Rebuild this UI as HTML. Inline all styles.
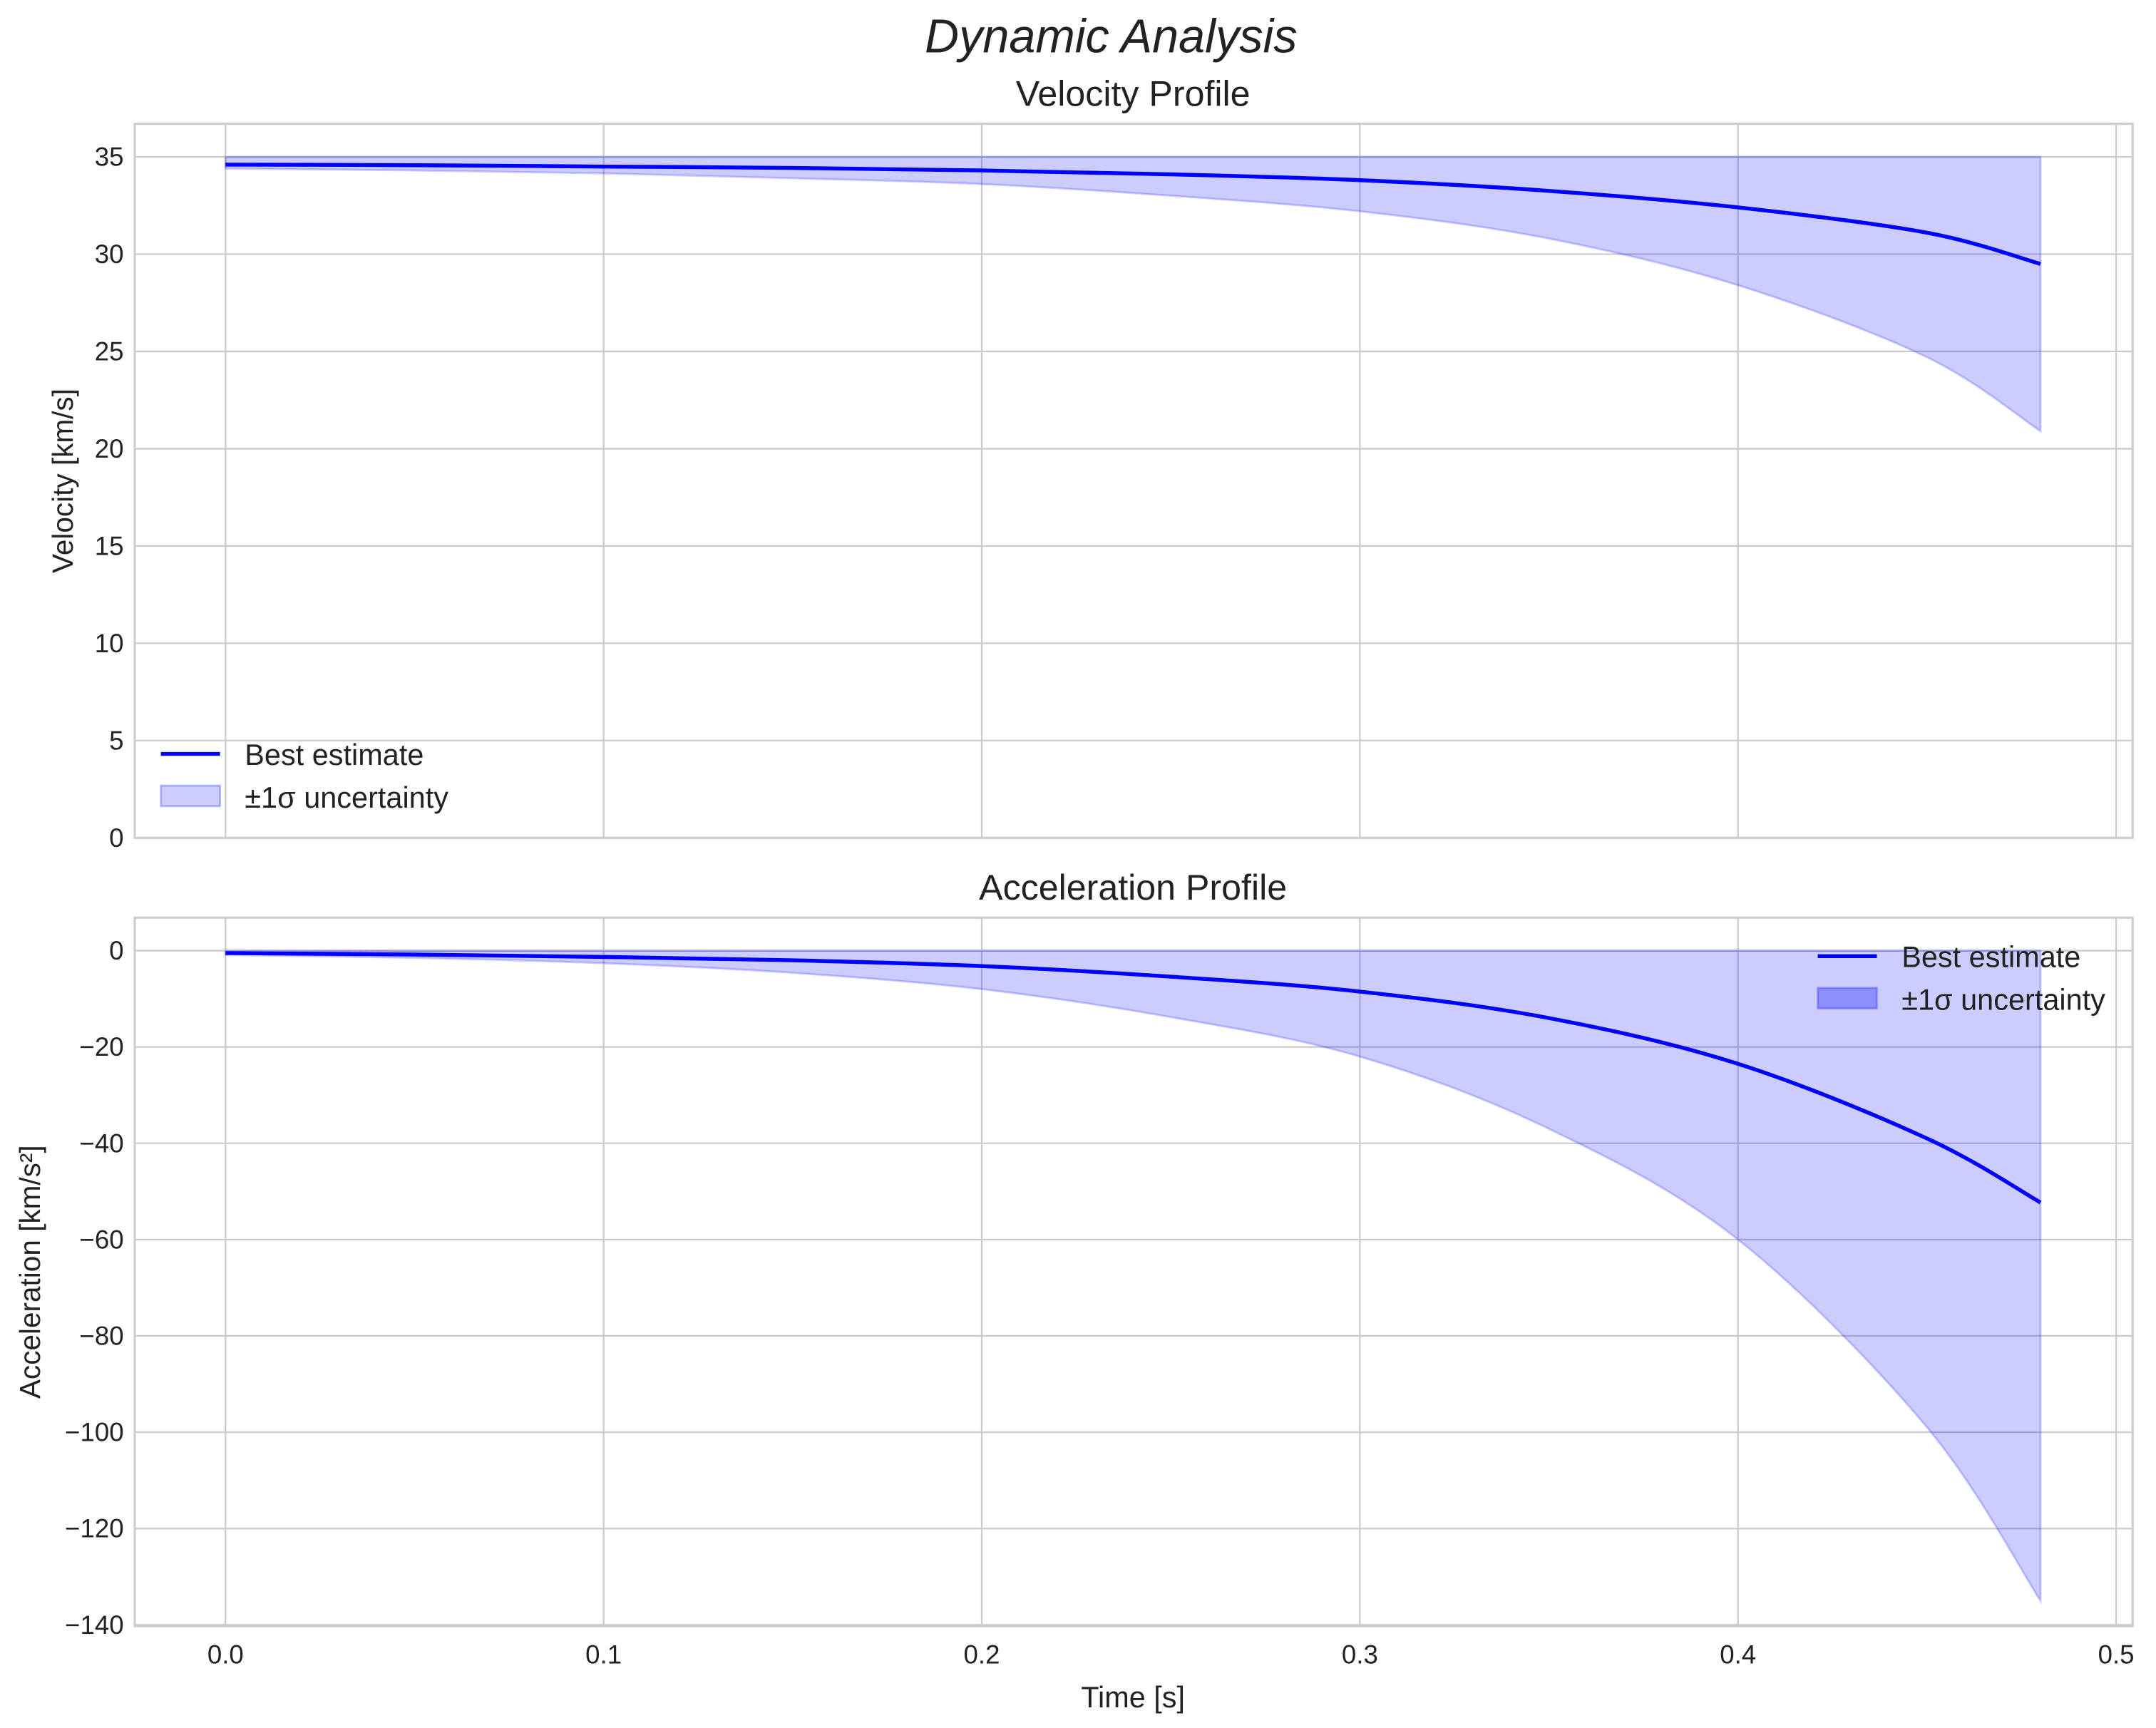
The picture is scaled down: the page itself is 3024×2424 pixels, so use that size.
<!DOCTYPE html>
<html><head><meta charset="utf-8"><style>
html,body{margin:0;padding:0;background:#fff;}
svg{display:block;font-family:"Liberation Sans",sans-serif;}
</style></head><body>
<svg id="chart" width="3024" height="2424" viewBox="0 0 1568 1256" preserveAspectRatio="none" xmlns="http://www.w3.org/2000/svg">
<rect width="1568" height="1256" fill="#fff"/>
<text x="808" y="38" text-anchor="middle" font-size="34.5" font-style="italic" fill="#222">Dynamic Analysis</text>
<g id="g1"></g><g id="g2"></g>
</svg>
<script>
const times = [0, 0.05, 0.1, 0.15, 0.2, 0.25, 0.3, 0.35, 0.4, 0.45, 0.48];
const velBest = [34.6, 34.57, 34.5, 34.43, 34.3, 34.1, 33.8, 33.25, 32.4, 31.1, 29.5];
const velLower = [34.4, 34.3, 34.15, 33.9, 33.6, 33.0, 32.2, 30.8, 28.4, 24.7, 20.9];
const velUpper = [35, 35, 35, 35, 35, 35, 35, 35, 35, 35, 35];
const accBest = [-0.5, -0.8, -1.3, -2.0, -3.2, -5.4, -8.5, -14, -23.5, -39, -52.3];
const accLower = [-0.9, -1.5, -2.6, -4.6, -8.0, -13.8, -22, -37, -60, -99, -135];
const accUpper = [0, 0, 0, 0, 0, 0, 0, 0, 0, 0, 0];
const xTicks = [0, 0.1, 0.2, 0.3, 0.4, 0.5];
const velTicks = [0, 5, 10, 15, 20, 25, 30, 35];
const accTicks = [0, -20, -40, -60, -80, -100, -120, -140];

const NS = 'http://www.w3.org/2000/svg';
function mk(parent, tag, attrs, text){
  const e = document.createElementNS(NS, tag);
  for (const k in attrs) e.setAttribute(k, attrs[k]);
  if (text !== undefined) e.textContent = text;
  parent.appendChild(e); return e;
}
const L = 98, R = 1551;
const xs = t => 164 + t * 2750;
function P(p){ return p[0] + ',' + p[1] + ' '; }
function curve(pts){
  let d = '';
  for (let i = 0; i < pts.length - 1; i++){
    const p0 = pts[Math.max(0, i-1)], p1 = pts[i], p2 = pts[i+1], p3 = pts[Math.min(pts.length-1, i+2)];
    const c1 = [p1[0] + (p2[0]-p0[0])/6, p1[1] + (p2[1]-p0[1])/6];
    const c2 = [p2[0] - (p3[0]-p1[0])/6, p2[1] - (p3[1]-p1[1])/6];
    d += ' C ' + P(c1) + P(c2) + P(p2);
  }
  return d;
}
function panel(g, cfg){
  const {top, bottom, ys, ticks, best, lower, upper, title, ylabel, showX, legendX, legendY, patchAlpha} = cfg;
  xTicks.forEach(t => {
    const l = mk(g, 'line', {x1: xs(t), x2: xs(t), y1: top, y2: bottom, stroke: '#ccc', 'stroke-width': 1.2});
    
    
    if (showX){
      const tx = mk(g, 'text', {x: xs(t), y: bottom + 27, 'text-anchor': 'middle', 'font-size': 19, fill: '#222'}, t.toFixed(1));
      
      
    }
  });
  ticks.forEach(v => {
    const l = mk(g, 'line', {x1: L, x2: R, y1: ys(v), y2: ys(v), stroke: '#ccc', 'stroke-width': 1.2});
    
    
    const tx = mk(g, 'text', {x: L - 8, y: ys(v) + 6.5, 'text-anchor': 'end', 'font-size': 19, fill: '#222'}, v < 0 ? '\u2212' + (-v) : String(v));
    
    
  });
  const frame = mk(g, 'rect', {x: L, y: top, width: R-L, height: bottom-top, fill: 'none', stroke: '#ccc', 'stroke-width': 1.6});
  
  
  const up = times.map((t,i) => [xs(t), ys(upper[i])]);
  const lo = times.map((t,i) => [xs(t), ys(lower[i])]).reverse();
  const band = mk(g, 'path', {d: 'M ' + P(up[0]) + curve(up) + ' L ' + P(lo[0]) + curve(lo) + ' Z', fill: 'rgba(0,0,255,0.2)', stroke: 'rgba(0,0,255,0.2)', 'stroke-width': 1.5});
  
  
  const bp = times.map((t,i) => [xs(t), ys(best[i])]);
  const line = mk(g, 'path', {d: 'M ' + P(bp[0]) + curve(bp), fill: 'none', stroke: '#0000ff', 'stroke-width': 2.8});
  
  
  const tt = mk(g, 'text', {x: 824, y: top - 13, 'text-anchor': 'middle', 'font-size': 26, fill: '#222'}, title);
  
  
  const cy = (top + bottom) / 2;
  const yl = mk(g, 'text', {x: 0, y: 0, transform: 'translate(' + cfg.ylx + ',' + cy + ') rotate(-90)', 'text-anchor': 'middle', 'font-size': 21, fill: '#222'}, ylabel);
  
  
  const lg = mk(g, 'g', {});
  
  
  const ll = mk(lg, 'line', {x1: legendX, x2: legendX + 43, y1: legendY, y2: legendY, stroke: '#0000ff', 'stroke-width': 2.8});
  
  
  const lt = mk(lg, 'text', {x: legendX + 61, y: legendY + 8, 'font-size': 21.5, fill: '#222'}, 'Best estimate');
  
  
  const lp = mk(lg, 'rect', {x: legendX, y: legendY + 23, width: 43, height: 15, fill: 'rgba(0,0,255,' + patchAlpha + ')', stroke: 'rgba(0,0,255,0.25)', 'stroke-width': 1.5});
  
  
  const lt2 = mk(lg, 'text', {x: legendX + 61, y: legendY + 39, 'font-size': 21.5, fill: '#222'}, '\u00b11\u03c3 uncertainty');
  
  
}
panel(document.getElementById('g1'), {top: 90, bottom: 609, ys: v => 609 - v * 14.143, ticks: velTicks, best: velBest, lower: velLower, upper: velUpper, title: 'Velocity Profile', ylabel: 'Velocity [km/s]', ylx: 53, showX: false, legendX: 117, legendY: 548, patchAlpha: 0.2});
panel(document.getElementById('g2'), {top: 667, bottom: 1182, ys: v => 691 - v * 3.5, ticks: accTicks, best: accBest, lower: accLower, upper: accUpper, title: 'Acceleration Profile', ylabel: 'Acceleration [km/s\u00b2]', ylx: 29, showX: true, legendX: 1322, legendY: 695, patchAlpha: 0.3});
const xl = mk(document.getElementById('g2'), 'text', {x: 824, y: 1241, 'text-anchor': 'middle', 'font-size': 21.5, fill: '#222'}, 'Time [s]');


</script>
</body></html>
